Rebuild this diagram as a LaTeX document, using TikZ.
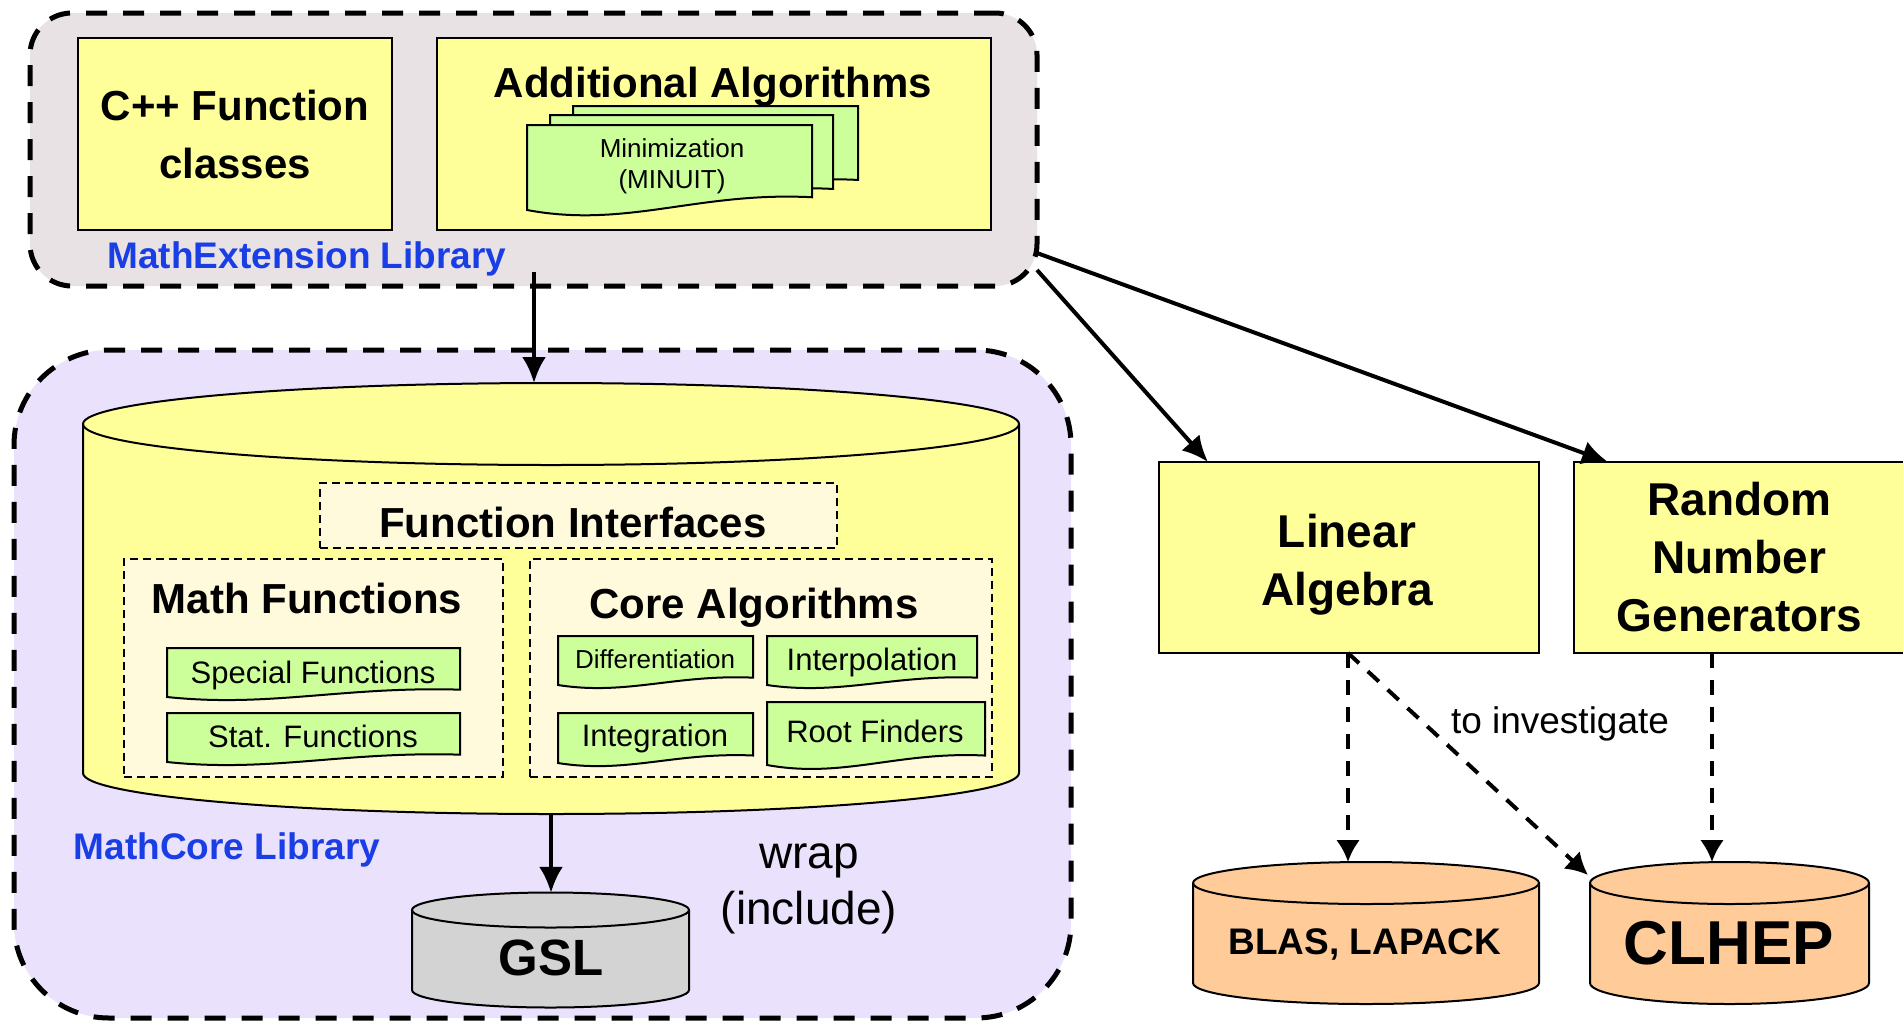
\documentclass[tikz,border=0pt]{standalone}
\usepackage{fontspec}
\setmainfont{Liberation Sans}
\usetikzlibrary{arrows.meta}
\definecolor{yel}{HTML}{FFFF99}
\definecolor{grn}{HTML}{CCFF99}
\definecolor{crm}{HTML}{FFFADB}
\definecolor{extbg}{HTML}{E8E2E5}
\definecolor{corebg}{HTML}{EAE1FC}
\definecolor{libblue}{HTML}{1A3EE6}
\definecolor{org}{HTML}{FFCC99}
\definecolor{gslgray}{HTML}{D3D3D3}
\newcommand\docpath[4]{%
  \pgfmathsetmacro\docW{#3-#1}\pgfmathsetmacro\docH{#4-#2}%
  \draw[docst] (#1,-#2) -- (#3,-#2) -- (#3,{-(#4-0.15*\docH)})
    .. controls ({#1+0.6*\docW},{-(#4-0.22*\docH)}) and ({#1+0.35*\docW},{-(#4+0.22*\docH)}) .. (#1,-#4) -- cycle;}
\newcommand\cylpath[6]{% x1 x2 ytopcenter ybotcenter ry fill
  \pgfmathsetmacro\cylR{(#2-#1)/2}%
  \draw[line width=2pt, fill=#6] (#1,-#3) -- (#1,-#4) arc[start angle=180,end angle=360,x radius=\cylR,y radius=#5]
    -- (#2,-#3) arc[start angle=0,end angle=180,x radius=\cylR,y radius=#5] -- cycle;
  \draw[line width=2pt] (#1,-#3) arc[start angle=180,end angle=360,x radius=\cylR,y radius=#5];}
\begin{document}
\begin{tikzpicture}[x=1pt,y=1pt,
  container/.style={draw, line width=5pt, dash pattern=on 21pt off 16pt, inner sep=0pt},
  ybox/.style={draw, fill=yel, line width=2pt, inner sep=0pt},
  inbox/.style={draw, fill=crm, line width=1.8pt, dash pattern=on 8pt off 5pt, inner sep=0pt},
  docst/.style={draw, fill=grn, line width=2pt},
  arr/.style={line width=4pt, -{Latex[length=26pt,width=24pt]}},
  darr/.style={line width=4pt, dash pattern=on 15pt off 12pt, -{Latex[length=22pt,width=24pt]}},
  bigb/.style={font=\fontsize{42}{58}\selectfont\bfseries, align=center},
  hugeb/.style={font=\fontsize{46}{58}\selectfont\bfseries, align=center},
  lib/.style={font=\fontsize{37}{44}\selectfont\bfseries, text=libblue},
  small/.style={font=\fontsize{26}{31}\selectfont, align=center},
  med/.style={font=\fontsize{31}{37}\selectfont, align=center},
  invis/.style={inner sep=0pt}
]
\useasboundingbox (0,0) rectangle (1903,-1021);

% containers
\node[container, fill=extbg, rounded corners=42pt, minimum width=1007pt, minimum height=273pt] (ext) at (533.5,-149.5) {};
\node[container, fill=corebg, rounded corners=95pt, minimum width=1057pt, minimum height=668pt] (corelib) at (542.5,-684) {};

% MathExtension content
\node[ybox, minimum width=314pt, minimum height=192pt, bigb] (cpp) at (235,-134) {C++ Function\\classes};
\node[ybox, minimum width=554pt, minimum height=192pt] (add) at (714,-134) {};
\node[bigb] (addt) at (713,-87) {Additional Algorithms};
\docpath{573}{106}{858}{193}
\docpath{550}{115}{833}{202}
\docpath{527}{125}{812}{210}
\node[small] (mini) at (672,-166) {Minimization\\(MINUIT)};
\node[lib] (extlbl) at (307,-259) {MathExtension Library};

% MathCore big cylinder
\cylpath{83}{1019}{424}{773}{41}{yel}
\node[invis, minimum width=936pt, minimum height=430pt] (core) at (551,-598) {};
\node[inbox, minimum width=517pt, minimum height=65pt] (fi) at (578.5,-515.5) {};
\node[bigb] (fit) at (573,-522) {Function Interfaces};
\node[inbox, minimum width=379pt, minimum height=218pt] (mf) at (313.5,-668) {};
\node[inbox, minimum width=462pt, minimum height=218pt] (ca) at (761,-668) {};
\node[bigb] (mft) at (307,-598) {Math Functions};
\node[bigb] (cat) at (754,-608) {Core Algorithms};
\docpath{167}{648}{460}{697}
\docpath{167}{713}{460}{762}
\docpath{558}{636}{753}{685}
\docpath{767}{636}{977}{685}
\docpath{558}{713}{753}{763}
\docpath{767}{702}{985}{765}
\node[med] (spf) at (313,-675) {Special Functions};
\node[med] (stf) at (313,-736) {Stat. Functions};
\node[small] (dif) at (655,-659) {Differentiation};
\node[med] (itp) at (872,-662) {Interpolation};
\node[med] (itg) at (655,-738) {Integration};
\node[med] (rtf) at (875,-731) {Root Finders};
\node[lib] (corelbl) at (227,-850) {MathCore Library};

% GSL
\cylpath{412}{689}{910}{990}{17.5}{gslgray}
\node[invis, minimum width=277pt, minimum height=114pt] (gsl) at (551,-950) {};
\node[font=\fontsize{51}{60}\selectfont\bfseries] (gslt) at (551,-958) {GSL};
\node[font=\fontsize{46}{56}\selectfont, align=center] (wrap) at (809,-889) {wrap\\(include)};

% right side
\node[ybox, minimum width=380pt, minimum height=191pt] (lin) at (1349,-557.5) {};
\node[hugeb] (lint) at (1347,-565) {Linear\\Algebra};
\node[ybox, minimum width=331pt, minimum height=191pt, hugeb] (rng) at (1739.5,-557.5) {Random\\Number\\Generators};
\cylpath{1193}{1539}{883}{983}{21}{org}
\node[invis, minimum width=346pt, minimum height=140pt] (blas) at (1366,-933) {};
\node[font=\fontsize{37}{44}\selectfont\bfseries] (blast) at (1365,-944) {BLAS, LAPACK};
\cylpath{1590}{1869}{883}{983}{21}{org}
\node[invis, minimum width=279pt, minimum height=140pt] (clhep) at (1729.5,-933) {};
\node[font=\fontsize{62}{70}\selectfont\bfseries] (clhept) at (1729,-943) {CLHEP};
\node[font=\fontsize{37}{44}\selectfont] (inv) at (1560,-724) {to investigate};

% connector end points
\coordinate (extout) at (534,-272);
\coordinate (corein) at (534,-383);
\coordinate (extr1) at (1037,-253);
\coordinate (extr2) at (1037,-270);
\coordinate (linin) at (1208,-462);
\coordinate (rngin) at (1608,-462);
\coordinate (linout) at (1348,-653);
\coordinate (blasin) at (1348,-862);
\coordinate (clhepin) at (1588,-875);
\coordinate (rngout) at (1712,-653);
\coordinate (clhepin2) at (1712,-862);

% connectors
\draw[arr] (extout) -- (corein);
\draw[arr] (core.south) -- (gsl.north);
\draw[arr] (extr2) -- (linin);
\draw[arr] (extr1) -- (rngin);
\draw[darr] (linout) -- (blasin);
\draw[darr] (linout) -- (clhepin);
\draw[darr] (rngout) -- (clhepin2);
\end{tikzpicture}
\end{document}
